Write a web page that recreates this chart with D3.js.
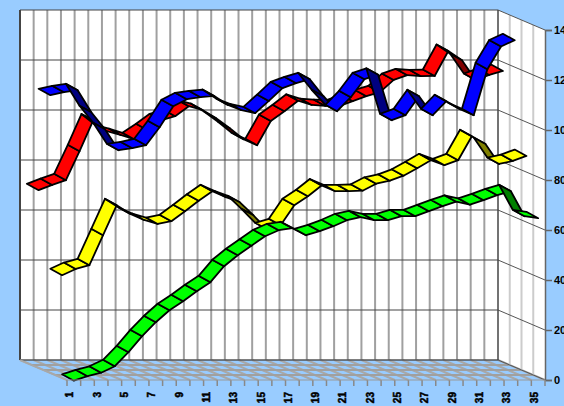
<!DOCTYPE html>
<html>
<head>
<meta charset="utf-8">
<style>
html,body{margin:0;padding:0;background:#99CCFF;overflow:hidden}
svg{display:block}
</style>
<script src="https://cdn.jsdelivr.net/npm/d3@7/dist/d3.min.js"></script>
</head>
<body>
<div id="chart"></div>
<script>
const categories = ["1","2","3","4","5","6","7","8","9","10","11","12","13","14","15","16","17","18","19","20","21","22","23","24","25","26","27","28","29","30","31","32","33","34","35"];
const tickLabels = ["1","3","5","7","9","11","13","15","17","19","21","23","25","27","29","31","33","35"];
const valueTicks = [0,20,40,60,80,100,120,140];
const seriesNames = ["Red","Blue","Yellow","Green"];
const redValues = [70.2,72.3,74.2,85.8,98.1,93.8,92.3,90.6,94.2,98.2,99.8,103.8,102.3,99,95,90.6,88.2,97.9,101.8,106,104.3,103.9,103.8,105.8,107.8,109.4,114.3,116.2,115.8,115.9,125.9,122.2,114.3,116.3,117.9];
const blueValues = [110.2,111.4,112.2,103.4,96.6,88.2,89,90.2,97.4,105.8,108.6,109.4,109.9,106.3,104.2,103,107.9,113,115,116.6,109.8,103.8,109.4,116.6,118.4,100.2,102.2,109.8,102.2,107.8,104.6,102.2,120.6,129.7,132.2];
const yellowValues = [40.2,42.7,44.2,56.2,68.2,64.7,62.3,60.7,61.8,65.8,70,73.8,71.4,69.4,64.2,58.6,60.2,68.2,71.8,76.1,73.8,73.8,74,76.8,78,80,83,86.2,84.2,86.2,95.8,92.7,84.7,85.9,87.9];
const greenValues = [0,1.8,3.2,5.8,11.4,17.8,23.4,28.2,31.8,35.8,39.4,45.8,50.2,54,57.8,60.2,61,58.2,59.8,61.8,64.2,65.4,64.2,64.2,65.8,65.8,67.8,69.8,71.6,70.4,72.2,74.2,75.8,65.8,65];
const seriesValues = [redValues, blueValues, yellowValues, greenValues];
const seriesFill = ["#FF0000","#0000FF","#FFFF00","#00FF00"];
const seriesShade = ["#800000","#000080","#808000","#008000"];

const W = 564, H = 406;
const wall = {x0:20, x1:498, y0:360, y1:10};
const depth = {dx:47, dy:20};
const ribbon = {dx:5.9, dy:3.2};

const x = d3.scaleBand().domain(categories).range([wall.x0, wall.x1]);
const y = d3.scaleLinear().domain([0,140]).range([wall.y0, wall.y1]);
const zBand = d3.scaleBand().domain(seriesNames).range([0,1]);
const proj = (px, py, f) => [px + depth.dx*f, py + depth.dy*f];
const poly = pts => pts.map(p => p.join(",")).join(" ");

const svg = d3.select("#chart").append("svg").attr("width",W).attr("height",H);
svg.append("rect").attr("width",W).attr("height",H).attr("fill","#99CCFF");

// Back wall, right wall
svg.append("polygon").attr("fill","#fff")
  .attr("points",poly([[wall.x0,wall.y1],[wall.x1,wall.y1],[wall.x1,wall.y0],[wall.x0,wall.y0]]));
svg.append("polygon").attr("fill","#fff")
  .attr("points",poly([[wall.x1,wall.y1],proj(wall.x1,wall.y1,1),proj(wall.x1,wall.y0,1),[wall.x1,wall.y0]]));

const grid = svg.append("g").attr("fill","none");
const edges = [wall.x0,...categories.map(c=>x(c)+x.bandwidth())];
const depthFracs = [0.25,0.5,0.75];
const seg = (a,b,col,w) => grid.append("line").attr("x1",a[0]).attr("y1",a[1]).attr("x2",b[0]).attr("y2",b[1]).attr("stroke",col).attr("stroke-width",w);

// Floor
edges.forEach(e=>seg([e,wall.y0],proj(e,wall.y0,1),"#a8a8a8",2));
depthFracs.forEach(f=>seg(proj(wall.x0,wall.y0,f),proj(wall.x1,wall.y0,f),"#a0a0a0",2));
// Back wall verticals
edges.slice(1,-1).forEach(e=>seg([e,wall.y1],[e,wall.y0],"#a0a0a0",2));
// Right wall verticals
depthFracs.forEach(f=>seg(proj(wall.x1,wall.y1,f),proj(wall.x1,wall.y0,f),"#cccccc",2));
// Horizontal value lines
valueTicks.forEach(t=>{
  const py=y(t);
  seg([wall.x0,py],[wall.x1,py],t===0?"#555":"#444",t===0?1.5:1);
  seg([wall.x1,py],proj(wall.x1,py,1),"#555",1);
});
seg([wall.x0,wall.y1],[wall.x0,wall.y0],"#444",2);
seg([wall.x1,wall.y1],[wall.x1,wall.y0],"#444",1.5);
seg([wall.x0,wall.y0],proj(wall.x0,wall.y0,1),"#a8a8a8",1.5);

// Ribbons, rear series first
seriesNames.forEach((name,s)=>{
  const f = zBand(name)+zBand.bandwidth()/2;
  const pts = seriesValues[s].map((v,i)=>proj(x(categories[i])+x.bandwidth()/2, y(v), f));
  const g = svg.append("g").attr("class","series").attr("data-name",name);
  d3.pairs(pts).forEach(([a,b])=>{
    const run=b[0]-a[0], rise=b[1]-a[1];
    const under = rise/run > ribbon.dy/ribbon.dx;
    g.append("polygon")
      .attr("points",poly([
        [a[0]-ribbon.dx,a[1]-ribbon.dy],[b[0]-ribbon.dx,b[1]-ribbon.dy],
        [b[0]+ribbon.dx,b[1]+ribbon.dy],[a[0]+ribbon.dx,a[1]+ribbon.dy]]))
      .attr("fill",under?seriesShade[s]:seriesFill[s])
      .attr("stroke","#000").attr("stroke-width",1.8).attr("stroke-linejoin","round");
  });
});

// Right value axis
const yFront = y.copy().range([wall.y0+depth.dy, wall.y1+depth.dy]);
const yAxis = svg.append("g").attr("transform",`translate(${wall.x1+depth.dx},0)`)
  .call(d3.axisRight(yFront).tickValues(valueTicks).tickSize(7).tickPadding(2).tickFormat(d3.format("d")));
yAxis.selectAll("path,line").attr("stroke","#666").attr("stroke-width",1.5);
yAxis.selectAll("text").attr("fill","#000").attr("font-family","Liberation Sans, Arial, sans-serif").attr("font-size",11).attr("font-weight","bold");

// Bottom category axis
const xFront = x.copy().range([wall.x0+depth.dx, wall.x1+depth.dx]);
const xAxis = svg.append("g").attr("transform",`translate(0,${wall.y0+depth.dy})`)
  .call(d3.axisBottom(xFront).tickValues(tickLabels).tickSize(0).tickFormat(d=>d));
xAxis.select(".domain").remove();
xAxis.selectAll("text")
  .attr("fill","#000").attr("stroke","#000").attr("stroke-width",0.5)
  .attr("font-family","Liberation Sans, Arial, sans-serif").attr("font-size",10).attr("font-weight","bold")
  .attr("text-anchor","end").attr("x",0).attr("y",-0.5).attr("dy",0)
  .attr("transform","translate(0,12) rotate(-90)");
const tickG = svg.append("g").attr("transform",`translate(0,${wall.y0+depth.dy})`);
[wall.x0+depth.dx,...categories.map(c=>xFront(c)+xFront.bandwidth())].forEach(e=>{
  tickG.append("line").attr("x1",e).attr("x2",e).attr("y1",0).attr("y2",6).attr("stroke","#888").attr("stroke-width",1.5);
});
tickG.append("line").attr("x1",wall.x0+depth.dx).attr("x2",wall.x1+depth.dx).attr("y1",0).attr("y2",0).attr("stroke","#999").attr("stroke-width",1);
</script>
</body>
</html>
